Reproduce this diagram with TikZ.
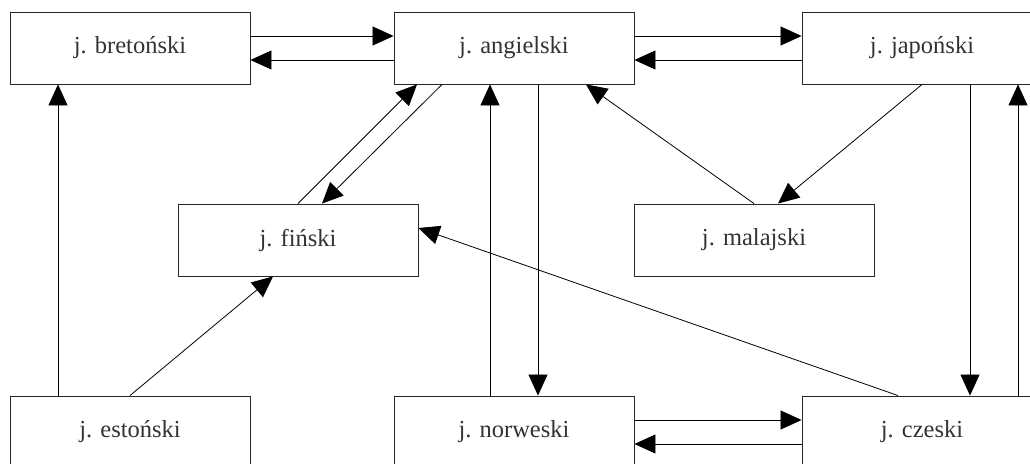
\documentclass[tikz,border=0pt]{standalone}
\usepackage{fontspec}
\setmainfont{Liberation Serif}
\usetikzlibrary{arrows.meta}
\begin{document}
\begin{tikzpicture}[x=1pt,y=-1pt,
  lang/.style={draw=black!85, line width=0.9pt, minimum width=240pt, minimum height=72pt,
    inner sep=0pt, text=black!80, font=\fontsize{24.5}{29}\selectfont},
  arr/.style={draw=black, line width=0.8pt, -{Triangle[length=21pt,width=19pt]}}]
\useasboundingbox (0,0) rectangle (1030,463);
\clip (0,0) rectangle (1030,463);
% language boxes
\node[lang] (bre) at (130,48) {j. bretoński};
\node[lang] (ang) at (514,48) {j. angielski};
\node[lang] (jap) at (922,48) {j. japoński};
\node[lang] (fin) at (298,240) {j. fiński};
\node[lang] (mal) at (754,240) {j. malajski};
\node[lang] (est) at (130,432) {j. estoński};
\node[lang] (nor) at (514,432) {j. norweski};
\node[lang] (cze) at (922,432) {j. czeski};
% top row pairs
\draw[arr] ([yshift=12pt]bre.east) -- ([yshift=12pt]ang.west);
\draw[arr] ([yshift=-12pt]ang.west) -- ([yshift=-12pt]bre.east);
\draw[arr] ([yshift=12pt]ang.east) -- ([yshift=12pt]jap.west);
\draw[arr] ([yshift=-12pt]jap.west) -- ([yshift=-12pt]ang.east);
% bottom row pair
\draw[arr] ([yshift=12pt]nor.east) -- ([yshift=12pt]cze.west);
\draw[arr] ([yshift=-12pt]cze.west) -- ([yshift=-12pt]nor.east);
% vertical links
\draw[arr] ([xshift=-72pt]est.north) -- ([xshift=-72pt]bre.south);
\draw[arr] ([xshift=-24pt]nor.north) -- ([xshift=-24pt]ang.south);
\draw[arr] ([xshift=24pt]ang.south) -- ([xshift=24pt]nor.north);
\draw[arr] ([xshift=48pt]jap.south) -- ([xshift=48pt]cze.north);
\draw[arr] ([xshift=96pt]cze.north) -- ([xshift=96pt]jap.south);
% diagonal links
\draw[arr] (est.north) -- ([xshift=-25pt]fin.south);
\draw[arr] (fin.north) -- ([xshift=-97pt]ang.south);
\draw[arr] ([xshift=-72pt]ang.south) -- ([xshift=24pt]fin.north);
\draw[arr] (mal.north) -- ([xshift=72pt]ang.south);
\draw[arr] (jap.south) -- ([xshift=24pt]mal.north);
\draw[arr] ([xshift=-24pt]cze.north) -- ([yshift=12pt]fin.east);
\end{tikzpicture}
\end{document}
